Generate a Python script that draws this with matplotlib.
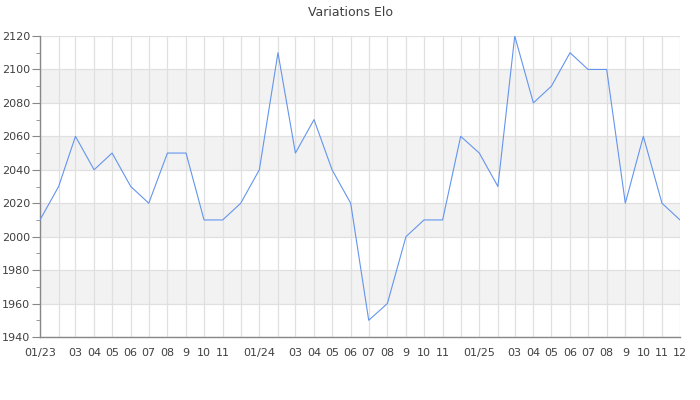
import matplotlib
matplotlib.use("Agg")
import matplotlib.pyplot as plt
import matplotlib.dates as mdates
import numpy as np
import pandas as pd

months = pd.date_range("2023-01-01", "2025-12-01", freq="MS")
elo = [2010, 2030, 2060, 2040, 2050, 2030, 2020, 2050, 2050, 2010, 2010, 2020,
       2040, 2110, 2050, 2070, 2040, 2020, 1950, 1960, 2000, 2010, 2010, 2060,
       2050, 2030, 2120, 2080, 2090, 2110, 2100, 2100, 2020, 2060, 2020, 2010]
month_labels = ["01/23", "", "03", "04", "05", "06", "07", "08", "9", "10", "11", "",
                "01/24", "", "03", "04", "05", "06", "07", "08", "9", "10", "11", "",
                "01/25", "", "03", "04", "05", "06", "07", "08", "9", "10", "11", "12"]
y_ticks = np.arange(1940, 2121, 20)

text_color = "#404040"
grid_color = "#e0e0e0"

fig = plt.figure(figsize=(7, 4), dpi=100)
ax = fig.add_axes([40 / 700, 1 - 337 / 400, 640 / 700, 301 / 400])

# alternating bands
for i in range(len(y_ticks) - 1):
    if i % 2 == 1:
        ax.axhspan(y_ticks[i], y_ticks[i + 1], color="#f2f2f2", zorder=0, lw=0)

ax.plot(months, elo, color="#6495ed", linewidth=0.8, zorder=3)

ax.set_xlim(months[0], months[-1])
ax.set_ylim(y_ticks[0], y_ticks[-1])
ax.set_yticks(y_ticks)
ax.set_yticks(np.arange(1950, 2120, 20), minor=True)
ax.set_xticks(months)
ax.set_xticklabels(month_labels)

ax.grid(True, which="major", color=grid_color, linewidth=0.9, zorder=1)
ax.set_axisbelow(True)

for s in ["top", "right"]:
    ax.spines[s].set_visible(False)
for s in ["left", "bottom"]:
    ax.spines[s].set_color("#888888")
    ax.spines[s].set_linewidth(1.0)

ax.tick_params(axis="x", length=0, pad=8, labelsize=8, labelcolor=text_color)
ax.tick_params(axis="y", which="major", length=6, color="#888888",
               labelsize=8, labelcolor=text_color, pad=1)
ax.tick_params(axis="y", which="minor", length=3, color="#888888")

fig.text(0.5, 1 - 12 / 400, "Variations Elo", ha="center", va="center",
         fontsize=9, color=text_color)

fig.savefig("out.png", dpi=100)
